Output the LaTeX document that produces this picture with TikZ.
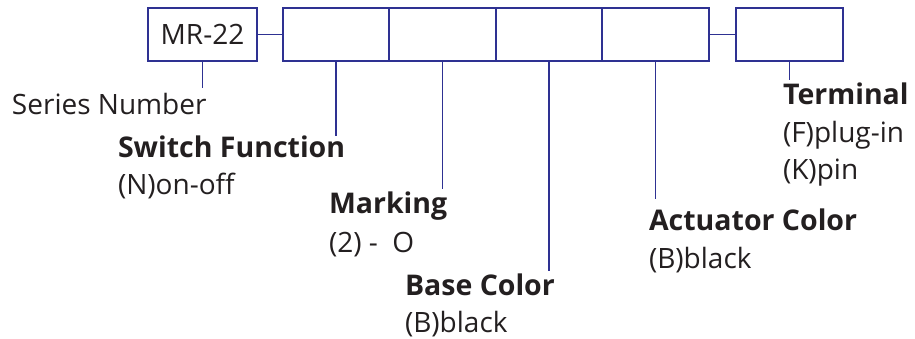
\documentclass[tikz,border=0pt]{standalone}
\usepackage{fontspec}
\setmainfont{Open Sans}
\definecolor{lineblue}{HTML}{2E3192}
\definecolor{txt}{HTML}{231F20}
\begin{document}
\begin{tikzpicture}[x=1pt,y=-1pt,
  box/.style={draw=lineblue,line width=1.8pt,minimum width=106.5pt,minimum height=53pt,inner sep=0pt,outer sep=0pt,text=txt,font=\fontsize{28}{34}\selectfont},
  lbl/.style={anchor=base west,inner sep=0pt,outer sep=0pt,text=txt,font=\fontsize{28}{34}\selectfont},
  ttl/.style={lbl,font=\fontsize{28.5}{34}\selectfont\bfseries},
  conn/.style={draw=lineblue,line width=1.8pt}]
\useasboundingbox (0,0) rectangle (915,339);
\node[box,minimum width=109pt] (mr) at (202.5,34.5) {MR-22};
\node[box] (b1) at (336,34.5) {};
\node[box] (b2) at (442.5,34.5) {};
\node[box] (b3) at (549,34.5) {};
\node[box] (b4) at (655.5,34.5) {};
\node[box] (bt) at (789.5,34.5) {};
\draw[conn] (mr.east) -- (b1.west);
\draw[conn] (b4.east) -- (bt.west);
% labels
\node[lbl] (sn) at (12,115) {Series Number};
\node[ttl] (sf) at (118,158) {Switch Function};
\node[lbl] (sf1) at (118,195) {(N)on-off};
\node[ttl] (mk) at (329,213) {Marking};
\node[lbl] (mk1) at (329,252) {(2) -\ \ O};
\node[ttl] (bc) at (405,295) {Base Color};
\node[lbl] (bc1) at (405,332) {(B)black};
\node[ttl] (ac) at (649,230) {Actuator Color};
\node[lbl] (ac1) at (649,268) {(B)black};
\node[ttl] (te) at (783,105) {Terminal};
\node[lbl] (te1) at (783,143) {(F)plug-in};
\node[lbl] (te2) at (783,180) {(K)pin};
% stems
\coordinate (emr) at (202.5,88);
\coordinate (e1) at (336,136);
\coordinate (e2) at (442.5,189);
\coordinate (e3) at (549,271);
\coordinate (e4) at (655.5,199);
\coordinate (et) at (789.5,80);
\draw[conn] (mr.south) -- (emr);
\draw[conn] (b1.south) -- (e1);
\draw[conn] (b2.south) -- (e2);
\draw[conn] (b3.south) -- (e3);
\draw[conn] (b4.south) -- (e4);
\draw[conn] (bt.south) -- (et);
\end{tikzpicture}
\end{document}
